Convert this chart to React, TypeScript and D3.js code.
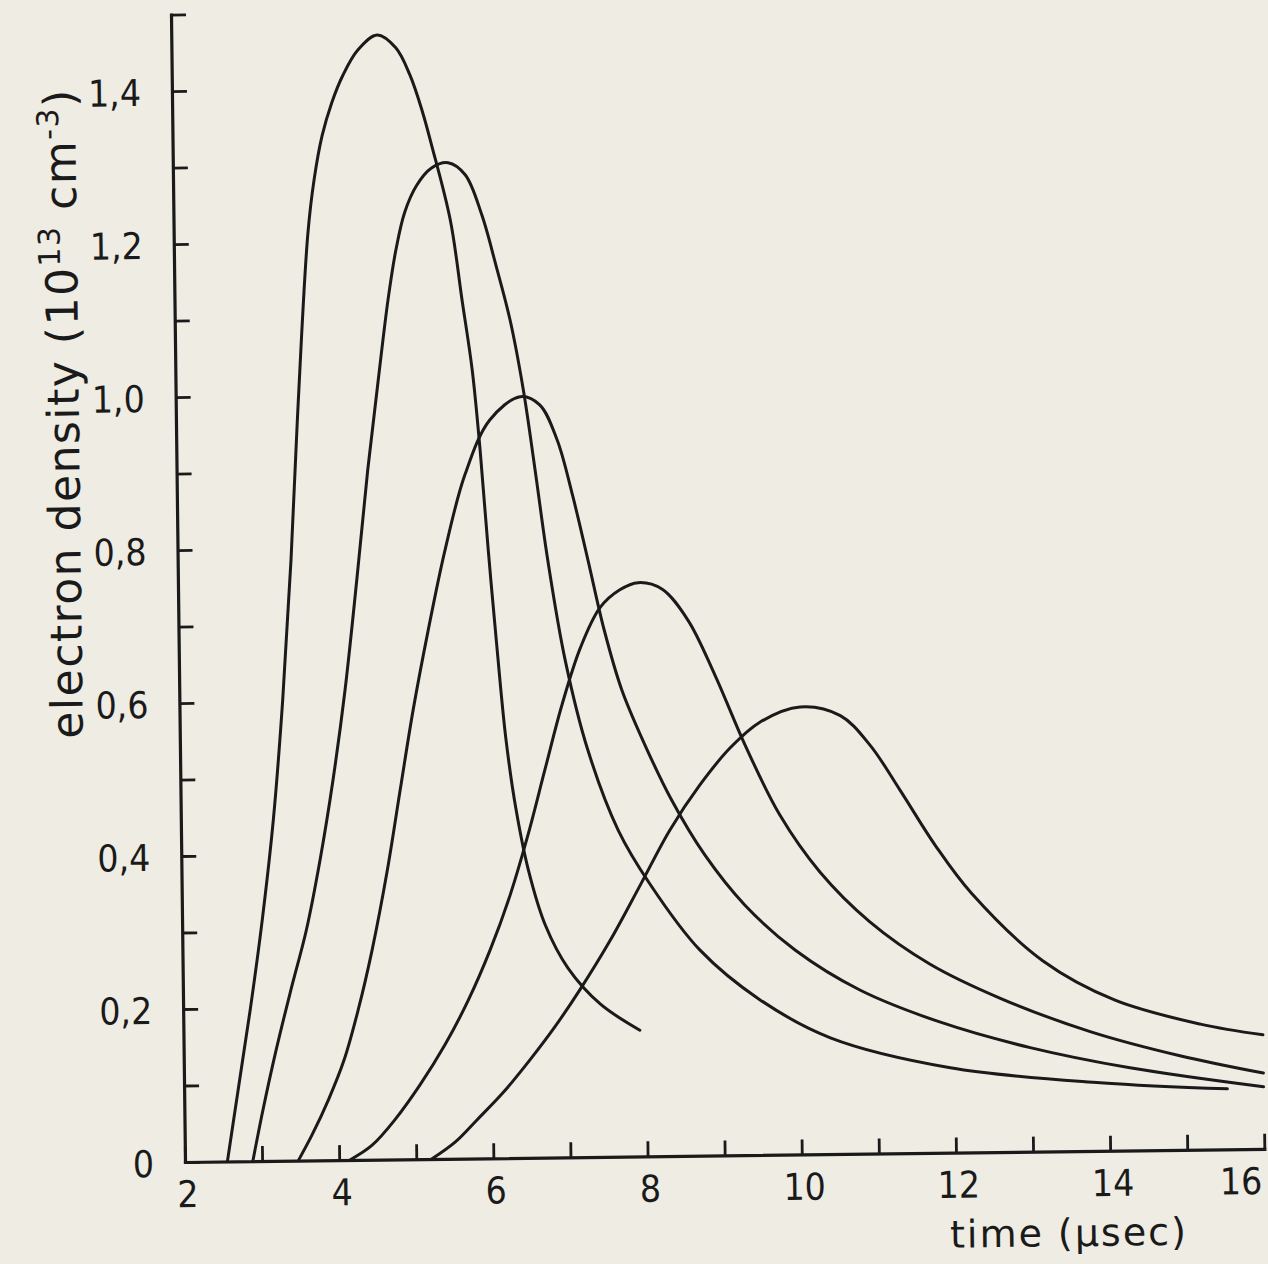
import React, { useEffect, useRef } from "react";
import * as d3 from "d3";

// ---------- data ----------
const timeTicks = [2, 3, 4, 5, 6, 7, 8, 9, 10, 11, 12, 13, 14, 15, 16];
const timeTickLabels = [2, 4, 6, 8, 10, 12, 14, 16];
const densityTicks = [0, 0.1, 0.2, 0.3, 0.4, 0.5, 0.6, 0.7, 0.8, 0.9, 1.0, 1.1, 1.2, 1.3, 1.4, 1.5];
const densityTickLabels = [0, 0.2, 0.4, 0.6, 0.8, 1.0, 1.2, 1.4];

const curveA_time = [2.55, 2.7, 2.87, 3.04, 3.2, 3.34, 3.47, 3.59, 3.74, 3.83, 3.94, 4.07, 4.22, 4.42, 4.67, 4.91, 5.09, 5.24, 5.36, 5.59, 5.73, 5.85, 5.94, 6.03, 6.13, 6.23, 6.35, 6.5, 6.71, 7.0, 7.41, 7.92];
const curveA_density = [0, 0.093, 0.198, 0.315, 0.446, 0.602, 0.785, 0.993, 1.211, 1.282, 1.339, 1.382, 1.418, 1.451, 1.47, 1.453, 1.417, 1.371, 1.325, 1.227, 1.122, 1.031, 0.926, 0.795, 0.664, 0.547, 0.455, 0.376, 0.304, 0.247, 0.2, 0.165];

const curveB_time = [2.88, 3.02, 3.2, 3.4, 3.61, 3.8, 3.98, 4.15, 4.32, 4.48, 4.63, 4.77, 4.88, 5.0, 5.16, 5.35, 5.57, 5.79, 6.0, 6.18, 6.35, 6.51, 6.65, 6.8, 7.01, 7.29, 7.67, 8.08, 8.71, 9.48, 10.39, 11.94, 13.88, 15.53];
const curveB_density = [0, 0.067, 0.145, 0.223, 0.301, 0.393, 0.497, 0.614, 0.758, 0.902, 1.019, 1.124, 1.189, 1.238, 1.273, 1.295, 1.302, 1.286, 1.233, 1.165, 1.095, 1.004, 0.899, 0.781, 0.65, 0.532, 0.427, 0.355, 0.269, 0.203, 0.152, 0.111, 0.089, 0.079];

const curveC_time = [3.47, 3.65, 3.87, 4.08, 4.27, 4.46, 4.67, 4.85, 5.03, 5.24, 5.47, 5.74, 6.07, 6.47, 6.72, 6.94, 7.13, 7.32, 7.52, 7.74, 8.03, 8.37, 8.79, 9.3, 9.95, 10.78, 11.81, 12.98, 14.27, 16.0];
const curveC_density = [0, 0.033, 0.079, 0.131, 0.196, 0.274, 0.378, 0.483, 0.587, 0.692, 0.796, 0.894, 0.965, 0.995, 0.984, 0.938, 0.866, 0.781, 0.689, 0.61, 0.538, 0.465, 0.393, 0.327, 0.267, 0.214, 0.171, 0.136, 0.108, 0.081];

const curveD_time = [4.14, 4.43, 4.73, 5.06, 5.39, 5.7, 5.99, 6.26, 6.5, 6.73, 6.96, 7.21, 7.47, 7.73, 7.97, 8.28, 8.61, 8.95, 9.33, 9.77, 10.28, 10.92, 11.69, 12.6, 13.76, 14.92, 16.0];
const curveD_density = [0, 0.019, 0.052, 0.097, 0.149, 0.207, 0.272, 0.344, 0.422, 0.507, 0.591, 0.666, 0.718, 0.741, 0.75, 0.741, 0.7, 0.628, 0.536, 0.444, 0.369, 0.303, 0.247, 0.201, 0.156, 0.123, 0.099];

const curveE_time = [5.2, 5.51, 5.79, 6.14, 6.49, 6.82, 7.15, 7.55, 7.95, 8.34, 8.74, 9.14, 9.53, 10.05, 10.57, 10.95, 11.33, 11.78, 12.24, 13.16, 14.08, 15.19, 16.0];
const curveE_density = [0, 0.022, 0.05, 0.086, 0.128, 0.171, 0.219, 0.283, 0.355, 0.426, 0.485, 0.533, 0.566, 0.585, 0.573, 0.534, 0.475, 0.402, 0.339, 0.249, 0.197, 0.164, 0.149];

const curveTimes = [curveA_time, curveB_time, curveC_time, curveD_time, curveE_time];
const curveDensities = [curveA_density, curveB_density, curveC_density, curveD_density, curveE_density];

// ---------- style ----------
const WIDTH = 1268;
const HEIGHT = 1264;
const PAPER = "#eeece3";
const INK = "#1a1a1a";
const FONT = "'DejaVu Sans', 'Liberation Sans', sans-serif";
const TICK_FONT = "'DejaVu Sans Condensed', 'DejaVu Sans', sans-serif";
const ORIGIN_X = 185;
const ORIGIN_Y = 1162;
const TILT = -0.7;

const fmtDensity = (v: number) => (v === 0 ? "0" : d3.format(".1f")(v).replace(".", ","));

export default function App() {
  const xRef = useRef<SVGGElement>(null);
  const yRef = useRef<SVGGElement>(null);

  const x = d3.scaleLinear().domain([2, 16]).range([ORIGIN_X, ORIGIN_X + 14 * 77.1]);
  const y = d3.scaleLinear().domain([0, 1.5]).range([ORIGIN_Y, ORIGIN_Y - 1.5 * 765]);

  const line = d3
    .line<[number, number]>()
    .x((d) => x(d[0]))
    .y((d) => y(d[1]))
    .curve(d3.curveCatmullRom.alpha(0.5));

  useEffect(() => {
    const xAxis = d3
      .axisBottom(x)
      .tickValues(timeTicks)
      .tickSizeInner(-15)
      .tickSizeOuter(0)
      .tickPadding(19)
      .tickFormat((d) => (timeTickLabels.includes(d as number) ? String(d) : ""));
    const gx = d3.select(xRef.current!);
    gx.attr("transform", `translate(0,${y(0)})`).call(xAxis as any);
    gx.attr("font-size", null).attr("font-family", null);
    gx.select(".domain").attr("stroke", INK).attr("stroke-width", 3.2).attr("stroke-linecap", "square");
    gx.selectAll(".tick line").attr("stroke", INK).attr("stroke-width", 2.8);
    gx.selectAll<SVGTextElement, number>(".tick text")
      .attr("fill", INK)
      .attr("font-size", 37)
      .attr("font-family", TICK_FONT)
      .attr("text-anchor", (d) => (d === 16 ? "end" : "middle"))
      .attr("x", (d) => (d === 16 ? -3 : 2));

    const yAxis = d3
      .axisLeft(y)
      .tickValues(densityTicks)
      .tickSizeInner(-15)
      .tickSizeOuter(0)
      .tickPadding(31)
      .tickFormat((d) => (densityTickLabels.some((v) => Math.abs(v - (d as number)) < 1e-9) ? fmtDensity(d as number) : ""));
    const gy = d3.select(yRef.current!);
    gy.attr("transform", `translate(${x(2)},0)`).call(yAxis as any);
    gy.attr("font-size", null).attr("font-family", null);
    gy.select(".domain").attr("stroke", INK).attr("stroke-width", 3.2).attr("stroke-linecap", "square");
    gy.selectAll(".tick line").attr("stroke", INK).attr("stroke-width", 2.8);
    gy.selectAll(".tick text")
      .attr("fill", INK)
      .attr("font-size", 37)
      .attr("font-family", TICK_FONT)
      .attr("dy", "0.38em");
  }, []);

  return (
    <svg
      width={WIDTH}
      height={HEIGHT}
      viewBox={`0 0 ${WIDTH} ${HEIGHT}`}
      style={{ position: "absolute", left: 0, top: 0, display: "block" }}
    >
      <rect x={0} y={0} width={WIDTH} height={HEIGHT} fill={PAPER} />
      <g transform={`rotate(${TILT},${ORIGIN_X},${ORIGIN_Y})`}>
        {curveTimes.map((ts, i) => (
          <path
            key={i}
            d={line(ts.map((t, j) => [t, curveDensities[i][j]] as [number, number])) || ""}
            fill="none"
            stroke={INK}
            strokeWidth={3}
            strokeLinejoin="round"
            strokeLinecap="round"
          />
        ))}
        <g ref={xRef} />
        <g ref={yRef} />
        <text
          transform={`translate(88,412) rotate(-90)`}
          textAnchor="middle"
          fontFamily={FONT}
          fontSize={44}
          letterSpacing={1.5}
          fill={INK}
        >
          electron density (10
          <tspan dy={-17} fontSize={30}>13</tspan>
          <tspan dy={17}> cm</tspan>
          <tspan dy={-17} fontSize={30}>-3</tspan>
          <tspan dy={17}>)</tspan>
        </text>
        <text
          x={1068}
          y={1257}
          textAnchor="middle"
          fontFamily={FONT}
          fontSize={38}
          letterSpacing={2}
          fill={INK}
        >
          time (μsec)
        </text>
      </g>
    </svg>
  );
}
